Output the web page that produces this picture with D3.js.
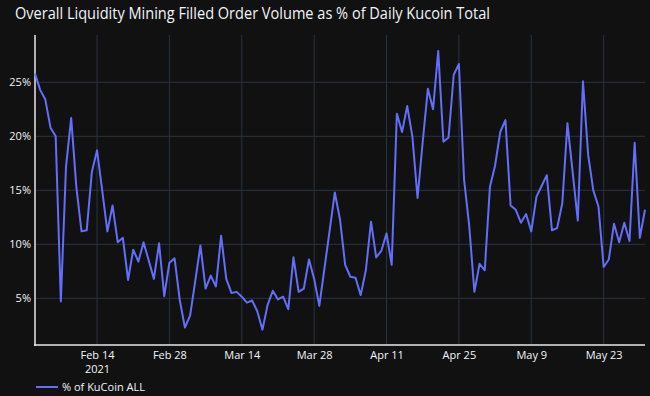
<!DOCTYPE html>
<html>
<head>
<meta charset="utf-8">
<script src="https://cdn.jsdelivr.net/npm/d3@7"></script>
<style>
html,body{margin:0;padding:0;background:#111111;}
svg{display:block;}
text{font-family:"Open Sans", "DejaVu Sans", sans-serif;fill:#f2f5fa;}
</style>
</head>
<body>
<svg id="chart" width="650" height="396"></svg>
<script>
const titleText = "Overall Liquidity Mining Filled Order Volume as % of Daily Kucoin Total";
const seriesName = "% of KuCoin ALL";
const startDate = "2021-02-02";
const values = [
  25.8, 24.3, 23.4, 20.8, 20.0, 4.7, 17.2, 21.7, 15.3, 11.2,
  11.3, 16.7, 18.7, 15.0, 11.2, 13.6, 10.2, 10.6, 6.7, 9.5,
  8.4, 10.2, 8.5, 6.8, 10.1, 5.2, 8.3, 8.7, 4.85, 2.3,
  3.4, 6.6, 9.9, 5.9, 7.1, 6.1, 10.8, 6.8, 5.5, 5.6,
  5.15, 4.6, 4.8, 3.8, 2.1, 4.4, 5.7, 4.9, 5.15, 4.0,
  8.8, 5.6, 5.9, 8.6, 6.8, 4.3, 7.8, 11.3, 14.8, 12.3,
  8.1, 7.0, 6.9, 5.3, 7.6, 12.1, 8.8, 9.4, 11.0, 8.1,
  22.1, 20.4, 22.8, 20.0, 14.3, 19.5, 24.4, 22.5, 27.9, 19.5,
  19.9, 25.7, 26.7, 16.0, 11.7, 5.6, 8.2, 7.6, 15.3, 17.3,
  20.4, 21.5, 13.6, 13.2, 12.0, 12.8, 11.2, 14.4, 15.4, 16.4,
  11.3, 11.5, 13.8, 21.2, 16.7, 12.2, 25.1, 18.3, 15.0, 13.5,
  7.9, 8.6, 11.9, 10.2, 12.0, 10.3, 19.4, 10.6, 13.2
];
const yTicks = [5, 10, 15, 20, 25];
const xTickDates = ["2021-02-14", "2021-02-28", "2021-03-14", "2021-03-28", "2021-04-11", "2021-04-25", "2021-05-09", "2021-05-23"];

const start = new Date(startDate + "T00:00:00Z");
const data = values.map((v, i) => ({date: d3.utcDay.offset(start, i), value: v}));

const W = 650, H = 396;
const m = {left: 35, right: 5, top: 35, bottom: 51};
const svg = d3.select("#chart");
svg.append("rect").attr("width", W).attr("height", H).attr("fill", "#111111");

const x = d3.scaleUtc()
  .domain(d3.extent(data, d => d.date))
  .range([m.left, W - m.right]);
const y = d3.scaleLinear()
  .domain([0.68, 29.38])
  .range([H - m.bottom, m.top]);

const xt = xTickDates.map(s => new Date(s + "T00:00:00Z"));

// grid
const grid = svg.append("g");
grid.selectAll("line.v").data(xt).join("line")
  .attr("x1", d => x(d)).attr("x2", d => x(d))
  .attr("y1", m.top).attr("y2", H - m.bottom)
  .attr("stroke", "#283442").attr("stroke-width", 1);
grid.selectAll("line.h").data(yTicks).join("line")
  .attr("x1", m.left).attr("x2", W - m.right)
  .attr("y1", d => y(d)).attr("y2", d => y(d))
  .attr("stroke", "#283442").attr("stroke-width", 1);

// axes
const fmt = d3.utcFormat("%b %-d");
const xAxis = d3.axisBottom(x).tickValues(xt).tickSize(0).tickPadding(6)
  .tickFormat(d => fmt(d));
const gx = svg.append("g").attr("transform", `translate(0,${H - m.bottom})`).call(xAxis);
gx.select(".domain").remove();
gx.selectAll("text").attr("font-size", 11).attr("fill", "#f2f5fa")
  .attr("font-family", '"Open Sans", sans-serif');
gx.selectAll(".tick").filter((d, i) => i === 0).append("text")
  .attr("y", 20).attr("dy", "0.71em").attr("text-anchor", "middle")
  .attr("font-size", 11).attr("fill", "#f2f5fa").text(d3.utcFormat("%Y")(xt[0]));

const yAxis = d3.axisLeft(y).tickValues(yTicks).tickSize(0).tickPadding(4)
  .tickFormat(d => d + "%");
const gy = svg.append("g").attr("transform", `translate(${m.left},0)`).call(yAxis);
gy.select(".domain").remove();
gy.selectAll("text").attr("font-size", 11).attr("fill", "#f2f5fa")
  .attr("font-family", '"Open Sans", sans-serif');

// axis lines
svg.append("line").attr("x1", m.left).attr("x2", m.left)
  .attr("y1", m.top).attr("y2", H - m.bottom + 1)
  .attr("stroke", "#e8e8e8").attr("stroke-width", 1.5);
svg.append("line").attr("x1", m.left - 1).attr("x2", W - m.right)
  .attr("y1", H - m.bottom).attr("y2", H - m.bottom)
  .attr("stroke", "#e8e8e8").attr("stroke-width", 1.5);

// line
svg.append("path").datum(data)
  .attr("fill", "none").attr("stroke", "#636efa").attr("stroke-width", 2)
  .attr("stroke-linejoin", "round")
  .attr("d", d3.line().x(d => x(d.date)).y(d => y(d.value)));

// title
svg.append("text").attr("x", 15).attr("y", 19)
  .attr("font-size", 16).attr("textLength", 475).attr("lengthAdjust", "spacingAndGlyphs")
  .attr("fill", "#f2f5fa").text(titleText);

// legend
svg.append("line").attr("x1", 36).attr("x2", 58).attr("y1", 387).attr("y2", 387)
  .attr("stroke", "#636efa").attr("stroke-width", 2);
svg.append("text").attr("x", 62).attr("y", 387).attr("dy", "0.35em")
  .attr("font-size", 11).attr("fill", "#f2f5fa").text(seriesName);
</script>
</body>
</html>
